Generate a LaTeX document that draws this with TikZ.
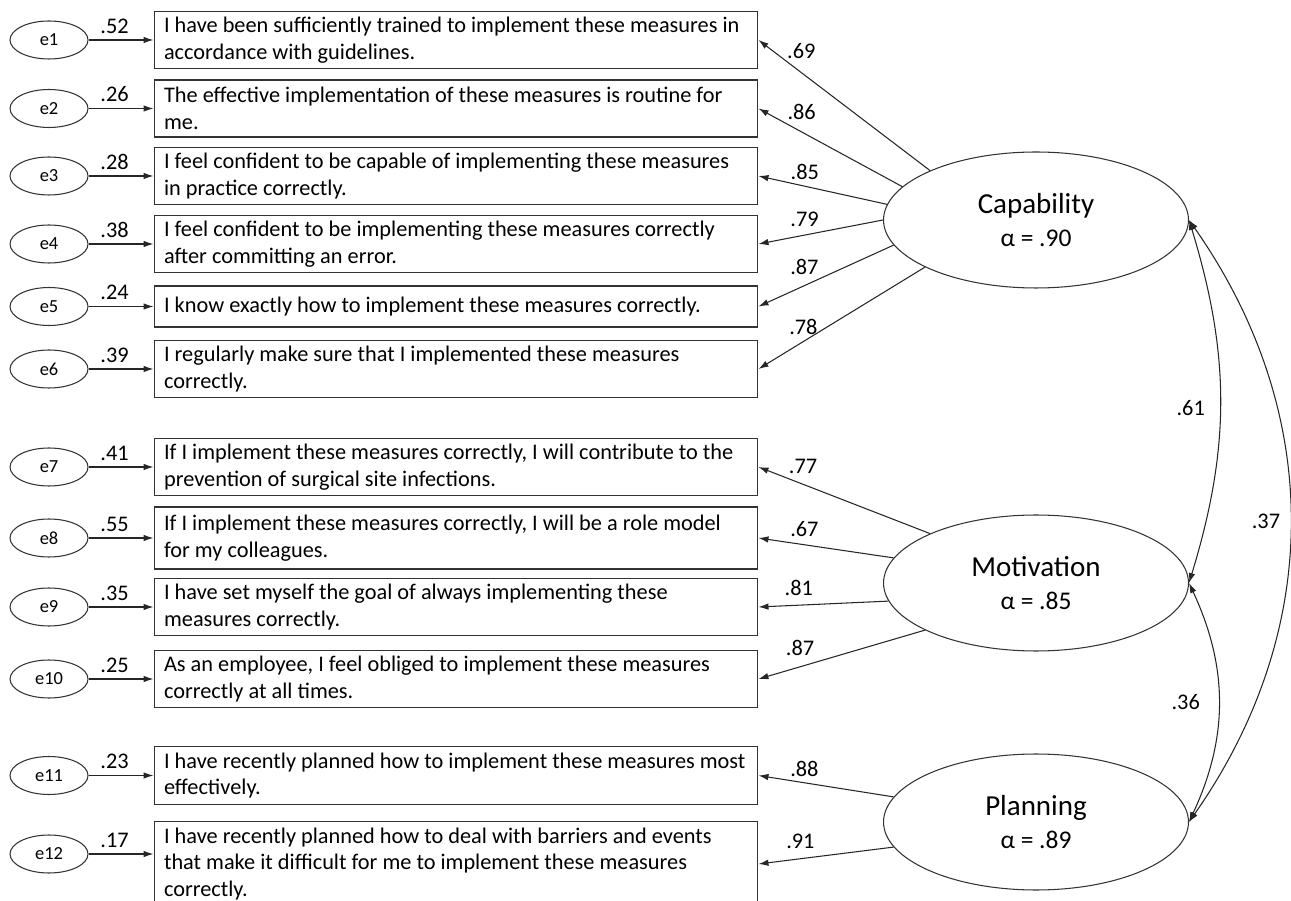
\documentclass[tikz,border=0pt]{standalone}
\usepackage{fontspec}
\setmainfont{Carlito}
\usetikzlibrary{positioning,arrows.meta,shapes.geometric}

\tikzset{
  item/.style={draw=black!80, line width=0.6pt, text width=11.68cm, align=flush left,
    inner xsep=0.2cm, minimum height=1.14cm, font=\fontsize{12.7}{15.3}\selectfont},
  err/.style={draw=black!80, line width=0.6pt, ellipse, minimum width=1.56cm,
    minimum height=0.76cm, inner sep=0pt, font=\fontsize{10.5}{12}\selectfont},
  latent/.style={draw=black!80, line width=0.6pt, ellipse, minimum width=6.1cm,
    minimum height=2.72cm, inner sep=0pt, align=center, font=\fontsize{16.5}{19}\selectfont},
  path/.style={draw=black!85, line width=0.6pt, ->},
  cov/.style={draw=black!85, line width=0.6pt, <->},
  coef/.style={font=\fontsize{12.7}{14}\selectfont},
}

\begin{document}
\begin{tikzpicture}[x=0.02cm, y=-0.02cm, >={Latex[length=2mm,width=1.3mm]}]
\useasboundingbox (0,0) rectangle (1291,901);
\clip (0,0) rectangle (1291,901);

% items
\node[item] (i1) at (456,40) {\mbox{I have been sufficiently trained to implement these measures in}\\accordance with guidelines.};
\node[item] (i2) at (456,108.5) {The effective implementation of these measures is routine for\\me.};
\node[item] (i3) at (456,176) {I feel confident to be capable of implementing these measures\\in practice correctly.};
\node[item] (i4) at (456,244) {I feel confident to be implementing these measures correctly\\after committing an error.};
\node[item, minimum height=0.82cm] (i5) at (456,306.5) {I know exactly how to implement these measures correctly.};
\node[item] (i6) at (456,369) {I regularly make sure that I implemented these measures\\correctly.};
\node[item] (i7) at (456,467) {\mbox{If I implement these measures correctly, I will contribute to the}\\prevention of surgical site infections.};
\node[item, minimum height=1.24cm] (i8) at (456,538) {If I implement these measures correctly, I will be a role model\\for my colleagues.};
\node[item] (i9) at (456,607) {I have set myself the goal of always implementing these\\measures correctly.};
\node[item] (i10) at (456,679) {As an employee, I feel obliged to implement these measures\\correctly at all times.};
\node[item] (i11) at (456,775.5) {\mbox{I have recently planned how to implement these measures most}\\effectively.};
\node[item, minimum height=1.64cm] (i12) at (456,864) {I have recently planned how to deal with barriers and events\\that make it difficult for me to implement these measures\\correctly.};

% error terms
\node[err, left=1.3cm of i1] (e1) {e1};
\node[err, left=1.3cm of i2] (e2) {e2};
\node[err, left=1.3cm of i3] (e3) {e3};
\node[err, left=1.3cm of i4] (e4) {e4};
\node[err, left=1.3cm of i5] (e5) {e5};
\node[err, left=1.3cm of i6] (e6) {e6};
\node[err, left=1.3cm of i7] (e7) {e7};
\node[err, left=1.3cm of i8] (e8) {e8};
\node[err, left=1.3cm of i9] (e9) {e9};
\node[err, left=1.3cm of i10] (e10) {e10};
\node[err, left=1.3cm of i11] (e11) {e11};
\node[err, left=1.3cm of i12, yshift=0.2cm] (e12) {e12};

% latent factors
\node[latent] (cap) at (1036,220) {Capability\\\fontsize{14.5}{19}\selectfont α = .90};
\node[latent] (mot) at (1036,583) {Motivation\\\fontsize{14.5}{19}\selectfont α = .85};
\node[latent] (pla) at (1036,822) {Planning\\\fontsize{14.5}{19}\selectfont α = .89};

% residuals
\draw[path] (e1) -- node[coef, pos=.4, above] {.52} (i1);
\draw[path] (e2) -- node[coef, pos=.4, above] {.26} (i2);
\draw[path] (e3) -- node[coef, pos=.4, above] {.28} (i3);
\draw[path] (e4) -- node[coef, pos=.4, above] {.38} (i4);
\draw[path] (e5) -- node[coef, pos=.4, above] {.24} (i5);
\draw[path] (e6) -- node[coef, pos=.4, above] {.39} (i6);
\draw[path] (e7) -- node[coef, pos=.4, above] {.41} (i7);
\draw[path] (e8) -- node[coef, pos=.4, above] {.55} (i8);
\draw[path] (e9) -- node[coef, pos=.4, above] {.35} (i9);
\draw[path] (e10) -- node[coef, pos=.4, above] {.25} (i10);
\draw[path] (e11) -- node[coef, pos=.4, above] {.23} (i11);
\draw[path] (e12) -- node[coef, pos=.4, above] {.17} (e12 -| i12.west);

% loadings
\draw[path] (cap.155.6) -- node[coef, pos=.75, above=4.5pt] {.69} (i1.east);
\draw[path] (cap.166) -- node[coef, pos=.7, above=3.5pt] {.86} (i2.east);
\draw[path] (cap.174) -- node[coef, pos=.64, above] {.85} (i3.east);
\draw[path] (cap.180) -- node[coef, pos=.63, above=1pt] {.79} (i4.east);
\draw[path] (cap.190) -- node[coef, pos=.66, above=2.5pt] {.87} (i5.east);
\draw[path] (cap.203.5) -- node[coef, pos=.73, above] {.78} (i6.east);
\draw[path] (mot.155.6) -- node[coef, pos=.74, above=2.5pt] {.77} (i7.east);
\draw[path] (mot.170) -- node[coef, pos=.66, above=1pt] {.67} (i8.east);
\draw[path] (mot.187) -- node[coef, pos=.69, above=1.5pt] {.81} (i9.east);
\draw[path] (mot.203.5) -- node[coef, pos=.75, above=2.5pt] {.87} (i10.east);
\draw[path] (pla.170.5) -- node[coef, pos=.66, above] {.88} (i11.east);
\draw[path] (pla.190) -- node[coef, pos=.69, above=2pt] {.91} (i12.east);

% correlations
\draw[cov] (cap.east) to[bend left=17] node[coef, pos=.52, left=5pt] {.61} (mot.east);
\draw[cov] (mot.east) to[bend left=25] node[coef, left=7pt] {.36} (pla.east);
\draw[cov] (cap.east) to[bend left=35] node[coef, left=2pt] {.37} (pla.east);
\end{tikzpicture}
\end{document}
